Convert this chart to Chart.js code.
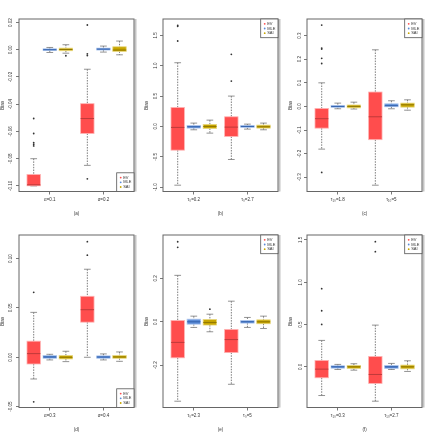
<!DOCTYPE html>
<html>
<head>
<meta charset="utf-8">
<script src="https://cdn.jsdelivr.net/npm/chart.js@4.4.0/dist/chart.umd.min.js"></script>
<style>
body { margin: 0; background: #fff; }
.p { position: absolute; }
</style>
</head>
<body>
<canvas class="p" id="pa" width="144" height="216" style="left:0;top:0"></canvas>
<canvas class="p" id="pb" width="144" height="216" style="left:144px;top:0"></canvas>
<canvas class="p" id="pc" width="144" height="216" style="left:288px;top:0"></canvas>
<canvas class="p" id="pd" width="144" height="216" style="left:0;top:216px"></canvas>
<canvas class="p" id="pe" width="144" height="216" style="left:144px;top:216px"></canvas>
<canvas class="p" id="pf" width="144" height="216" style="left:288px;top:216px"></canvas>
<script>
var methods = ['EV', 'MLE', 'SAI'];
var offsets = [-0.3, 0, 0.3];

// each box: [lower whisker, q1, median, q3, upper whisker], one per group
var aGroups = ['α=0.1', 'α=0.2'];
var aTicks = ['-0.10', '-0.08', '-0.06', '-0.04', '-0.02', '0.00', '0.02'];
var aRange = [-0.1041, 0.0226];
var aEV = [[-0.100, -0.0999, -0.0992, -0.0916, -0.080], [-0.0849, -0.0615, -0.0505, -0.0396, -0.0143]];
var aMLE = [[-0.002, -0.0005, 0, 0.0007, 0.0017], [-0.0017, -0.0002, 0.0005, 0.0012, 0.0027]];
var aSAI = [[-0.0025, -0.0007, 0.0002, 0.0012, 0.0037], [-0.0037, -0.0012, -0.0002, 0.0022, 0.0064]];
var aOutEV = [[-0.0505, -0.0615, -0.0682, -0.0694, -0.0706], [0.0182, -0.003, -0.0042, -0.0948]];
var aOutMLE = [[], []];
var aOutSAI = [[-0.0044], []];

var bGroups = ['τ₀=0.2', 'τ₀=2.7'];
var bTicks = ['-1.0', '-0.5', '0.0', '0.5', '1.0', '1.5'];
var bRange = [-1.071, 1.769];
var bEV = [[-0.967, -0.39, -0.016, 0.313, 1.049], [-0.544, -0.165, -0.011, 0.159, 0.5]];
var bMLE = [[-0.055, -0.027, -0.005, 0.016, 0.055], [-0.044, -0.016, 0, 0.016, 0.038]];
var bSAI = [[-0.11, -0.033, 0, 0.033, 0.104], [-0.055, -0.027, -0.005, 0.022, 0.055]];
var bOutEV = [[1.665, 1.648, 1.407], [0.747, 1.187]];
var bOutMLE = [[], []];
var bOutSAI = [[], []];

var cGroups = ['τ₁₀=1.8', 'τ₁₀=5'];
var cTicks = ['-0.3', '-0.2', '-0.1', '0.0', '0.1', '0.2', '0.3'];
var cRange = [-0.3607, 0.3706];
var cEV = [[-0.181, -0.092, -0.052, -0.0085, 0.1], [-0.334, -0.141, -0.044, 0.061, 0.24]];
var cMLE = [[-0.01, -0.004, 0, 0.004, 0.014], [-0.01, -0.0014, 0.003, 0.011, 0.024]];
var cSAI = [[-0.011, -0.006, 0, 0.006, 0.018], [-0.016, -0.003, 0.007, 0.014, 0.028]];
var cOutEV = [[0.345, 0.2475, 0.243, 0.204, 0.182, -0.28], []];
var cOutMLE = [[], []];
var cOutSAI = [[], []];

var dGroups = ['α=0.3', 'α=0.4'];
var dTicks = ['-0.05', '0.00', '0.05', '0.10'];
var dRange = [-0.0509, 0.1239];
var dEV = [[-0.022, -0.0068, 0.0037, 0.0163, 0.0455], [0, 0.0356, 0.0482, 0.0618, 0.0892]];
var dMLE = [[-0.0027, -0.001, 0.0003, 0.0017, 0.003], [-0.0027, -0.001, 0.0003, 0.0014, 0.0034]];
var dSAI = [[-0.0044, -0.0017, 0, 0.0017, 0.0061], [-0.0041, -0.001, 0.0003, 0.0017, 0.0054]];
var dOutEV = [[0.0658, -0.0451], [0.1035, 0.1171]];
var dOutMLE = [[], []];
var dOutSAI = [[], []];

var eGroups = ['τ₀=2.3', 'τ₀=5'];
var eTicks = ['-0.2', '0.0', '0.2'];
var eRange = [-0.395, 0.4];
var eEV = [[-0.366, -0.166, -0.095, 0.006, 0.214], [-0.288, -0.142, -0.082, -0.035, 0.095]];
var eMLE = [[-0.026, -0.011, 0, 0.012, 0.026], [-0.026, -0.006, 0, 0.006, 0.02]];
var eSAI = [[-0.046, -0.015, -0.003, 0.011, 0.035], [-0.031, -0.009, 0, 0.009, 0.026]];
var eOutEV = [[0.369, 0.343], []];
var eOutMLE = [[], []];
var eOutSAI = [[0.058], []];

var fGroups = ['τ₁₀=0.3', 'τ₁₀=2.7'];
var fTicks = ['0.0', '0.5', '1.0', '1.5'];
var fRange = [-0.4816, 1.559];
var fEV = [[-0.34, -0.13, -0.028, 0.075, 0.312], [-0.407, -0.197, -0.091, 0.122, 0.493]];
var fMLE = [[-0.032, -0.016, 0, 0.012, 0.028], [-0.032, -0.02, 0, 0.016, 0.04]];
var fSAI = [[-0.04, -0.02, 0, 0.016, 0.036], [-0.055, -0.024, 0, 0.02, 0.071]];
var fOutEV = [[0.924, 0.663, 0.501], [1.48, 1.362]];
var fOutMLE = [[], []];
var fOutSAI = [[], []];

var fills = ['#ff4d4d', '#5a8bd6', '#c8a600'];
var borders = ['#ffb3b3', '#b0c8ee', '#e8d880'];
var medians = ['#b83838', '#2f5ea8', '#8a7300'];

Chart.defaults.font.family = 'Liberation Sans';
Chart.defaults.font.size = 4.5;
Chart.defaults.color = '#333';

function makePanel(id, letter, groups, tickLabels, range, stats, outs, legendPos) {
    var points = [];
    outs.forEach(function(byGroup, m) {
        byGroup.forEach(function(vals, g) {
            vals.forEach(function(v) {
                points.push({x: g + 1 + offsets[m], y: v});
            });
        });
    });

    var boxes = {
        id: 'boxes',
        beforeDatasetsDraw: function(chart) {
            var ctx = chart.ctx, xs = chart.scales.x, ys = chart.scales.y;
            stats.forEach(function(byGroup, m) {
                byGroup.forEach(function(s, g) {
                    var cx = xs.getPixelForValue(g + 1 + offsets[m]);
                    var hw = xs.getPixelForValue(g + 1 + offsets[m] + 0.125) - cx;
                    var cw = hw * 0.5;
                    var lo = ys.getPixelForValue(s[0]), q1 = ys.getPixelForValue(s[1]);
                    var md = ys.getPixelForValue(s[2]), q3 = ys.getPixelForValue(s[3]);
                    var hi = ys.getPixelForValue(s[4]);
                    ctx.save();
                    ctx.strokeStyle = '#444';
                    ctx.lineWidth = 0.7;
                    ctx.setLineDash([1.5, 1.2]);
                    ctx.beginPath();
                    ctx.moveTo(cx, hi); ctx.lineTo(cx, q3);
                    ctx.moveTo(cx, q1); ctx.lineTo(cx, lo);
                    ctx.stroke();
                    ctx.setLineDash([]);
                    ctx.strokeStyle = '#777';
                    ctx.lineWidth = 0.8;
                    ctx.beginPath();
                    ctx.moveTo(cx - cw, hi); ctx.lineTo(cx + cw, hi);
                    ctx.moveTo(cx - cw, lo); ctx.lineTo(cx + cw, lo);
                    ctx.stroke();
                    ctx.fillStyle = fills[m];
                    ctx.fillRect(cx - hw, q3, 2 * hw, Math.max(q1 - q3, 0.8));
                    ctx.strokeStyle = borders[m];
                    ctx.lineWidth = 0.8;
                    ctx.strokeRect(cx - hw, q3, 2 * hw, Math.max(q1 - q3, 0.8));
                    ctx.strokeStyle = medians[m];
                    ctx.lineWidth = 0.9;
                    ctx.beginPath();
                    ctx.moveTo(cx - hw, md); ctx.lineTo(cx + hw, md);
                    ctx.stroke();
                    ctx.restore();
                });
            });
        },
        afterDraw: function(chart) {
            var ctx = chart.ctx, a = chart.chartArea;
            ctx.save();
            ctx.fillStyle = '#c4c4c4';
            ctx.fillRect(a.right + 0.5, a.top, 2, a.bottom - a.top);
            ctx.strokeStyle = '#666';
            ctx.lineWidth = 1;
            ctx.strokeRect(a.left, a.top, a.right - a.left, a.bottom - a.top);
            // legend
            var w = 17.3, h = 18.7;
            var lx = a.right - w;
            var ly = legendPos === 'br' ? a.bottom - h : a.top;
            ctx.fillStyle = '#fff';
            ctx.fillRect(lx, ly, w, h);
            ctx.strokeStyle = '#555';
            ctx.lineWidth = 0.8;
            ctx.strokeRect(lx, ly, w, h);
            ctx.font = '4px "Liberation Sans"';
            ctx.textBaseline = 'middle';
            methods.forEach(function(name, m) {
                var ry = ly + 4.8 + m * 4.7;
                ctx.fillStyle = fills[m];
                ctx.beginPath();
                ctx.arc(lx + 4, ry, 0.9, 0, Math.PI * 2);
                ctx.fill();
                ctx.fillStyle = '#333';
                ctx.fillText(name, lx + 6.5, ry);
            });
            ctx.restore();
        }
    };

    return new Chart(document.getElementById(id), {
        type: 'scatter',
        data: {
            datasets: [{
                data: points,
                pointRadius: 0.9,
                pointBackgroundColor: '#333',
                pointBorderColor: '#333',
                pointBorderWidth: 0
            }]
        },
        options: {
            responsive: false,
            animation: false,
            layout: {padding: {top: 19, right: 10, left: 0, bottom: 0}},
            plugins: {legend: {display: false}, tooltip: {enabled: false}},
            scales: {
                x: {
                    type: 'linear',
                    min: 0.426,
                    max: 2.57,
                    afterBuildTicks: function(scale) {
                        scale.ticks = groups.map(function(g, i) { return {value: i + 1}; });
                    },
                    afterFit: function(scale) { scale.height = 24.5; },
                    ticks: {
                        padding: 2.5,
                        maxRotation: 0,
                        callback: function(v, i) { return groups[i]; }
                    },
                    grid: {drawOnChartArea: false, tickLength: 3, color: '#555', lineWidth: 0.8},
                    border: {display: false},
                    title: {display: true, text: '(' + letter + ')', padding: 0}
                },
                y: {
                    min: range[0],
                    max: range[1],
                    afterBuildTicks: function(scale) {
                        scale.ticks = tickLabels.map(function(t) { return {value: parseFloat(t)}; });
                    },
                    afterFit: function(scale) { scale.width = 19; },
                    ticks: {
                        minRotation: 90,
                        maxRotation: 90,
                        crossAlign: 'center',
                        padding: 0,
                        callback: function(v, i) { return tickLabels[i]; }
                    },
                    grid: {drawOnChartArea: false, tickLength: 3, color: '#555', lineWidth: 0.8},
                    border: {display: false},
                    title: {display: true, text: 'Bias', padding: 0}
                }
            }
        },
        plugins: [boxes]
    });
}

makePanel('pa', 'a', aGroups, aTicks, aRange, [aEV, aMLE, aSAI], [aOutEV, aOutMLE, aOutSAI], 'br');
makePanel('pb', 'b', bGroups, bTicks, bRange, [bEV, bMLE, bSAI], [bOutEV, bOutMLE, bOutSAI], 'tr');
makePanel('pc', 'c', cGroups, cTicks, cRange, [cEV, cMLE, cSAI], [cOutEV, cOutMLE, cOutSAI], 'tr');
makePanel('pd', 'd', dGroups, dTicks, dRange, [dEV, dMLE, dSAI], [dOutEV, dOutMLE, dOutSAI], 'br');
makePanel('pe', 'e', eGroups, eTicks, eRange, [eEV, eMLE, eSAI], [eOutEV, eOutMLE, eOutSAI], 'tr');
makePanel('pf', 'f', fGroups, fTicks, fRange, [fEV, fMLE, fSAI], [fOutEV, fOutMLE, fOutSAI], 'tr');
</script>
</body>
</html>
